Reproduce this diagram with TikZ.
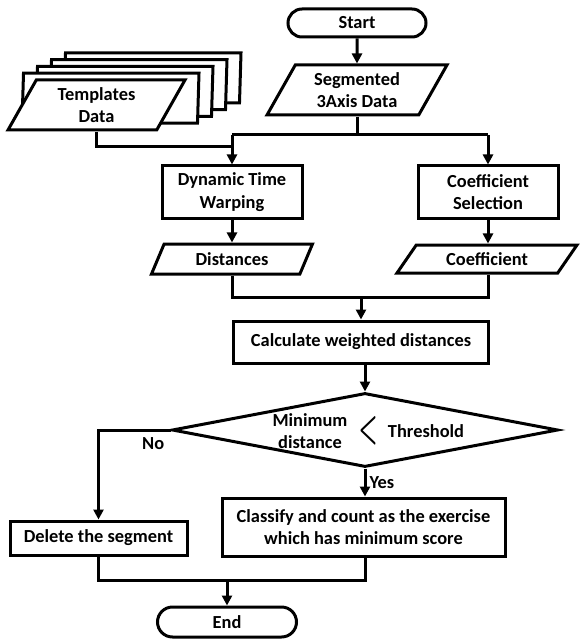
\documentclass[tikz,border=0pt]{standalone}
\usepackage{fontspec}
\setmainfont{Carlito}
\usetikzlibrary{arrows.meta,shapes.geometric,shapes.misc}

\begin{document}
\begin{tikzpicture}[x=1pt, y=-1pt,
  base/.style={draw, line width=3pt, align=center, inner sep=1pt,
               font=\bfseries\fontsize{18.4}{22.5}\selectfont},
  term/.style={base, rounded rectangle, minimum height=28pt},
  proc/.style={base, rectangle},
  io/.style={base, trapezium, trapezium stretches body, fill=white},
  dec/.style={base, diamond},
  line/.style={line width=3pt},
  arr/.style={line, -{Triangle[length=10pt,width=10pt]}},
  lbl/.style={font=\bfseries\fontsize{18.4}{22.5}\selectfont, inner sep=1pt}
]
\useasboundingbox (0,0) rectangle (579,639);

% Start and input data
\node[term, minimum width=140pt] (start) at (357,23) {Start};
\node[io, trapezium left angle=53, trapezium right angle=127,
      minimum width=180pt, minimum height=50pt] (seg) at (357,90) {Segmented\\3Axis Data};

% Stack of templates
\foreach \i in {4,3,2,1}
  \node[io, trapezium left angle=53, trapezium right angle=127,
        minimum width=177pt, minimum height=50pt] (tmpl\i) at (96.5+14*\i,105-6.8*\i) {};
\node[io, trapezium left angle=53, trapezium right angle=127,
      minimum width=177pt, minimum height=50pt] (tmpl) at (96.5,105) {Templates\\Data};

% Processing
\node[proc, minimum width=140pt, minimum height=52pt] (dtw)  at (232,192) {Dynamic Time\\Warping};
\node[proc, minimum width=140pt, minimum height=52pt] (csel) at (488,192) {Coefficient\\Selection};
\node[io, trapezium left angle=50, trapezium right angle=130,
      minimum width=161pt, minimum height=30pt] (dist) at (232,259) {Distances};
\node[io, trapezium left angle=38, trapezium right angle=142,
      minimum width=180pt, minimum height=28pt] (coef) at (487,259) {Coefficient};
\node[proc, minimum width=255pt, minimum height=42pt] (calc) at (361,342) {Calculate weighted distances};

% Decision
\node[dec, minimum width=386pt, minimum height=74pt] (dec) at (365,430) {};
\node[lbl, align=center] (mind) at (310,431) {Minimum\\distance};
\node[inner sep=0pt] (lt) at (368,431) {\resizebox{19pt}{25pt}{\boldmath$<$}};
\node[lbl] (thr) at (426,431) {Threshold};

% Results
\node[proc, minimum width=177pt, minimum height=34pt] (del) at (98.5,538) {Delete the segment};
\node[proc, minimum width=283pt, minimum height=58pt] (cls) at (363.5,527) {Classify and count as the exercise\\which has minimum score};
\node[term, minimum width=141pt, minimum height=30pt] (end) at (227,622) {End};

% Junctions
\coordinate (jl) at (232,135);
\coordinate (jr) at (488,135);
\coordinate (jt) at (232,147);
\coordinate (jb) at (361,297);
\coordinate (je) at (227,580);

% Arrows
\draw[arr] (start) -- (seg);
\draw[line] (seg.south) -- (seg.south |- jl);
\draw[line] (jl) -- (jr);
\draw[line] (tmpl.south) |- (jt);
\draw[arr] (jl) -- (dtw);
\draw[arr] (jr) -- (csel);
\draw[arr] (dtw) -- (dist);
\draw[arr] (csel) -- (coef.north -| csel);
\draw[line] (dist.south) |- (jb) -| (coef.south -| csel);
\draw[arr] (jb) -- (calc);
\draw[arr] (calc.south -| dec.north) -- (dec.north);
\draw[arr] (dec.west) -| node[lbl, pos=0.12, below=5pt] {No} (del);
\draw[arr] (dec.south) -- node[lbl, right=2pt] {Yes} (cls.north -| dec.south);
\draw[line] (del.south) |- (je) -| (cls.south -| dec.south);
\draw[arr] (je) -- (end);

\end{tikzpicture}
\end{document}
